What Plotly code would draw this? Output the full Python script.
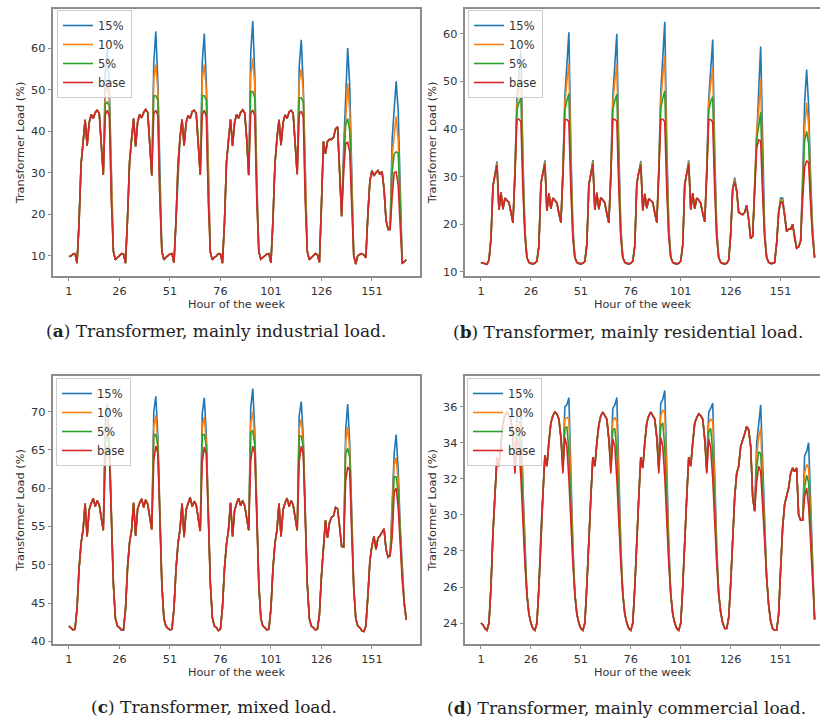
import plotly.graph_objects as go

# ---------------- data ----------------
hours = list(range(1, 169))
x_ticks = [1, 26, 51, 76, 101, 126, 151]
scenarios = ["15%", "10%", "5%", "base"]
colors = {"15%": "#1f77b4", "10%": "#ff7f0e", "5%": "#2ca02c", "base": "#d62728"}

# (a) mainly industrial load - base profile, hours 1..168
ind_base = [
    9.8, 9.9, 10.4, 10.5, 8.2, 18.0, 32.0, 38.5, 42.7, 36.5, 42.0, 44.0, 43.0, 44.5, 45.0, 44.3, 38.0, 29.5, 44.0, 45.0, 43.5, 23.0, 11.0, 9.0,
    9.5, 10.0, 10.5, 10.4, 8.2, 19.0, 32.5, 38.0, 43.0, 36.3, 42.2, 44.0, 43.2, 44.5, 45.2, 44.5, 37.5, 29.3, 44.2, 45.0, 43.8, 23.5, 11.0, 9.0,
    9.6, 10.0, 10.4, 10.5, 8.3, 18.5, 32.0, 38.5, 42.8, 36.5, 42.0, 43.8, 43.0, 44.7, 45.0, 44.3, 38.0, 29.5, 44.0, 45.0, 43.5, 23.0, 10.8, 9.0,
    9.6, 9.9, 10.5, 10.4, 8.2, 18.0, 32.5, 38.0, 42.8, 36.4, 42.1, 44.0, 43.1, 44.5, 45.1, 44.4, 38.2, 29.4, 44.3, 45.1, 43.6, 23.2, 11.0, 9.1,
    9.5, 10.0, 10.4, 10.5, 8.3, 18.5, 32.2, 38.3, 42.7, 36.6, 42.0, 43.9, 43.0, 44.6, 45.0, 44.3, 38.0, 29.6, 44.0, 44.8, 43.4, 23.0, 11.0, 9.0,
    9.5, 10.0, 10.5, 10.2, 8.4, 22.0, 37.5, 34.5, 37.5, 38.0, 38.0, 38.5, 40.5, 41.0, 30.0, 19.5, 30.0, 37.0, 37.3, 35.0, 22.0, 10.0, 8.0, 10.0,
    10.3, 10.5, 10.2, 9.5, 20.0, 28.0, 30.5, 29.2, 30.0, 30.5, 29.5, 30.3, 26.0, 18.5, 16.3, 16.3, 24.0, 30.0, 30.2, 27.0, 17.0, 8.2, 8.5, 9.0,
]
ind_peak_hours = [19, 20, 21, 22, 43, 44, 45, 46, 67, 68, 69, 70, 91, 92, 93, 94, 115, 116, 117, 118,
                  137, 138, 139, 140, 141, 161, 162, 163, 164, 165]
ind_5 = [46.5, 47.0, 46.0, 24.0, 48.5, 48.5, 47.5, 24.5, 48.5, 48.5, 47.5, 24.5, 49.5, 49.5, 48.0, 24.5, 48.0, 48.0, 47.0, 24.5,
         32.0, 41.5, 43.0, 40.0, 24.0, 30.0, 34.5, 35.0, 34.8, 22.0]
ind_10 = [49.0, 51.0, 47.5, 25.5, 52.5, 56.0, 50.0, 26.0, 52.5, 56.0, 50.0, 26.0, 53.5, 57.5, 51.0, 26.5, 52.0, 55.0, 49.5, 26.0,
          34.0, 44.0, 51.5, 45.0, 26.0, 34.0, 39.5, 43.5, 38.0, 23.0]
ind_15 = [54.0, 60.0, 50.0, 27.0, 56.5, 64.0, 52.0, 28.0, 56.5, 63.5, 52.0, 28.0, 59.0, 66.5, 53.5, 28.5, 55.5, 62.0, 51.0, 27.5,
          36.0, 48.0, 60.0, 51.0, 28.0, 38.0, 44.0, 52.0, 45.0, 27.0]

# (b) mainly residential load
res_base = [
    12.0, 11.9, 11.8, 11.6, 12.5, 17.0, 28.0, 30.5, 32.3, 23.0, 26.7, 23.2, 25.5, 25.0, 24.6, 22.5, 20.3, 30.0, 42.0, 42.1, 41.5, 27.0, 17.5, 13.0,
    12.0, 11.8, 11.7, 11.8, 12.3, 15.5, 28.5, 30.8, 32.5, 22.8, 26.5, 23.3, 25.5, 25.0, 24.5, 22.3, 20.4, 30.0, 42.0, 42.0, 41.5, 27.0, 17.0, 13.0,
    12.0, 11.8, 11.7, 11.8, 12.2, 15.8, 28.3, 30.6, 32.6, 23.0, 26.6, 23.2, 25.6, 25.1, 24.5, 22.2, 20.3, 29.8, 42.1, 42.0, 41.6, 27.2, 17.0, 13.0,
    12.0, 11.8, 11.7, 11.8, 12.3, 15.5, 28.6, 30.9, 32.3, 22.9, 26.4, 23.4, 25.4, 25.0, 24.6, 22.4, 20.4, 30.2, 42.0, 42.1, 41.5, 27.0, 17.2, 13.1,
    12.0, 11.8, 11.7, 11.8, 12.3, 15.7, 28.4, 30.7, 32.5, 23.1, 26.5, 23.3, 25.5, 25.1, 24.4, 22.3, 20.5, 30.0, 42.0, 42.0, 41.4, 27.0, 17.0, 13.0,
    12.0, 11.8, 11.7, 11.8, 12.5, 18.0, 27.5, 28.8, 27.0, 22.5, 22.2, 22.0, 22.5, 24.0, 21.0, 17.0, 17.5, 28.0, 36.0, 37.7, 37.5, 26.0, 17.0, 13.0,
    12.0, 11.8, 11.8, 12.0, 16.0, 22.5, 24.5, 24.5, 22.0, 18.5, 19.0, 19.0, 20.0, 17.0, 15.0, 15.3, 16.5, 25.0, 32.0, 33.3, 33.0, 24.0, 17.0, 13.0,
]
res_peak_hours = [9, 18, 19, 20, 21, 22, 23, 33, 42, 43, 44, 45, 46, 47, 57, 66, 67, 68, 69, 70, 71,
                  81, 90, 91, 92, 93, 94, 95, 105, 114, 115, 116, 117, 118, 119,
                  128, 139, 140, 141, 142, 143, 151, 152, 162, 163, 164, 165, 166, 167]
res_5 = [32.6, 30.5, 44.0, 45.5, 46.5, 29.5, 17.8, 32.8, 30.5, 44.0, 46.0, 47.4, 30.0, 17.5,
         32.9, 30.3, 44.1, 46.0, 47.3, 30.2, 17.5, 32.7, 30.7, 44.3, 46.5, 48.0, 30.5, 17.8,
         32.8, 30.5, 43.8, 45.8, 46.8, 29.8, 17.5,
         29.1, 38.0, 40.5, 43.5, 28.5, 17.5, 24.8, 24.8, 27.0, 37.5, 39.5, 37.0, 26.0, 17.8]
res_10 = [32.9, 31.0, 45.0, 48.5, 51.0, 31.5, 18.5, 33.1, 31.0, 45.5, 50.0, 53.7, 33.0, 18.5,
          33.2, 30.8, 45.5, 50.0, 53.5, 33.0, 18.5, 33.0, 31.2, 46.0, 51.0, 55.3, 34.0, 18.8,
          33.1, 31.0, 45.3, 49.5, 52.8, 32.5, 18.4,
          29.4, 39.5, 44.0, 50.5, 31.0, 18.0, 25.1, 25.1, 28.5, 40.0, 45.5, 41.0, 28.0, 18.5]
res_15 = [33.2, 31.5, 46.5, 51.5, 56.5, 34.0, 19.0, 33.4, 31.5, 47.0, 53.5, 60.3, 36.0, 19.5,
          33.5, 31.3, 47.0, 53.5, 60.0, 36.0, 19.5, 33.3, 31.7, 48.0, 55.0, 62.5, 37.0, 19.8,
          33.4, 31.5, 46.5, 52.5, 58.8, 35.0, 19.2,
          29.8, 41.0, 48.0, 57.3, 34.0, 18.5, 25.5, 25.5, 30.0, 45.5, 52.5, 45.0, 30.0, 19.0]

# (c) mixed load
mix_base = [
    42.0, 41.8, 41.5, 41.6, 44.3, 49.5, 52.8, 54.6, 58.0, 53.7, 57.2, 58.0, 58.7, 57.6, 58.4, 57.8, 56.0, 54.5, 63.5, 65.5, 64.5, 57.0, 47.5, 43.0,
    42.0, 41.8, 41.5, 41.5, 44.2, 49.6, 52.9, 54.5, 58.1, 53.8, 57.3, 58.1, 58.6, 57.5, 58.5, 57.9, 56.1, 54.6, 63.6, 65.5, 64.6, 57.0, 47.4, 43.0,
    42.0, 41.7, 41.5, 41.6, 44.3, 49.4, 52.8, 54.7, 58.0, 53.6, 57.2, 58.0, 58.8, 57.6, 58.3, 57.8, 56.0, 54.4, 63.4, 65.4, 64.4, 57.1, 47.6, 43.1,
    42.0, 41.8, 41.4, 41.6, 44.4, 49.5, 52.7, 54.6, 58.1, 53.7, 57.1, 58.0, 58.7, 57.7, 58.4, 57.7, 56.0, 54.5, 63.6, 65.5, 64.5, 57.0, 47.5, 43.0,
    42.0, 41.8, 41.5, 41.6, 44.3, 49.5, 52.8, 54.6, 58.0, 53.7, 57.2, 58.1, 58.7, 57.6, 58.4, 57.8, 55.9, 54.5, 63.5, 65.5, 64.4, 57.0, 47.5, 43.0,
    42.0, 41.8, 41.5, 41.6, 43.5, 48.5, 52.5, 55.8, 53.5, 55.5, 56.2, 56.4, 57.5, 57.3, 55.0, 52.4, 52.3, 61.0, 62.8, 62.3, 54.0, 47.0, 43.0, 42.0,
    41.8, 41.4, 41.3, 42.0, 46.0, 50.5, 52.5, 53.7, 52.0, 53.5, 53.8, 54.3, 54.7, 52.0, 51.0, 51.2, 53.5, 59.5, 60.0, 57.5, 52.0, 48.0, 45.0, 42.8,
]
mix_peak_hours = [19, 20, 21, 22, 43, 44, 45, 46, 67, 68, 69, 70, 91, 92, 93, 94, 115, 116, 117, 118,
                  138, 139, 140, 141, 161, 162, 163, 164, 165, 166]
mix_5 = [66.5, 66.8, 65.3, 57.4, 67.0, 67.0, 65.5, 57.5, 67.0, 67.0, 65.5, 57.5, 67.3, 67.5, 65.7, 57.5, 66.8, 66.8, 65.4, 57.4,
         64.5, 65.2, 64.0, 55.0, 55.0, 61.5, 61.5, 59.5, 53.0, 48.5]
mix_10 = [67.5, 69.0, 65.8, 57.8, 68.0, 69.5, 66.0, 58.0, 68.0, 69.3, 66.0, 58.0, 68.5, 70.0, 66.3, 58.2, 67.8, 69.0, 65.9, 57.9,
          66.0, 68.0, 65.0, 56.0, 56.5, 63.0, 64.0, 61.0, 54.0, 49.0]
mix_15 = [69.0, 71.0, 66.5, 58.3, 70.0, 72.0, 67.0, 58.5, 69.8, 71.8, 67.0, 58.5, 70.5, 73.0, 67.5, 58.8, 69.5, 71.3, 66.8, 58.4,
          67.5, 71.0, 66.0, 57.0, 58.0, 64.5, 67.0, 62.5, 55.0, 49.5]

# (d) mainly commercial load
com_base = [
    24.0, 23.9, 23.7, 23.6, 24.0, 26.0, 29.0, 31.0, 33.2, 32.7, 34.0, 35.1, 35.5, 35.7, 35.5, 35.3, 34.3, 32.3, 34.2, 33.8, 32.0, 29.5, 27.3, 25.6,
    24.5, 24.0, 23.7, 23.6, 24.0, 26.0, 29.1, 31.1, 33.3, 32.7, 34.1, 35.1, 35.5, 35.7, 35.6, 35.3, 34.3, 32.3, 34.3, 33.8, 32.0, 29.5, 27.3, 25.6,
    24.5, 24.0, 23.7, 23.6, 24.0, 26.1, 29.0, 31.0, 33.2, 32.7, 34.0, 35.0, 35.5, 35.7, 35.5, 35.3, 34.2, 32.3, 34.2, 33.8, 32.0, 29.4, 27.3, 25.6,
    24.5, 24.0, 23.7, 23.6, 24.0, 26.0, 29.0, 31.0, 33.2, 32.6, 34.0, 35.1, 35.5, 35.7, 35.5, 35.3, 34.3, 32.3, 34.3, 33.8, 32.1, 29.5, 27.3, 25.6,
    24.5, 24.0, 23.7, 23.6, 24.0, 26.0, 29.0, 31.0, 33.2, 32.7, 34.0, 35.1, 35.4, 35.6, 35.5, 35.3, 34.2, 32.3, 34.2, 33.7, 32.0, 29.5, 27.3, 25.6,
    24.6, 24.0, 23.7, 23.7, 24.3, 26.2, 29.0, 31.0, 32.3, 32.7, 33.8, 34.1, 34.5, 34.9, 34.7, 33.8, 31.0, 30.2, 31.8, 32.7, 32.4, 30.5, 28.3, 26.5,
    25.0, 24.1, 23.7, 23.6, 23.6, 24.5, 27.0, 29.3, 30.6, 31.0, 31.5, 32.3, 32.6, 32.4, 32.6, 30.0, 29.7, 29.7, 31.0, 31.5, 30.5, 28.5, 26.0, 24.2,
]
com_peak_hours = [18, 19, 20, 21, 22, 23, 42, 43, 44, 45, 46, 47, 66, 67, 68, 69, 70, 71,
                  90, 91, 92, 93, 94, 95, 114, 115, 116, 117, 118, 119,
                  139, 140, 141, 142, 143, 163, 164, 165, 166, 167]
com_5 = [32.4, 34.7, 34.6, 33.3, 30.1, 27.6, 32.5, 34.8, 34.9, 33.5, 30.2, 27.6, 32.5, 34.7, 34.8, 33.5, 30.2, 27.6,
         32.5, 34.9, 35.1, 33.7, 30.3, 27.6, 32.4, 34.6, 34.8, 33.4, 30.1, 27.6,
         32.6, 33.5, 33.4, 31.2, 28.7, 31.5, 32.2, 31.8, 29.3, 26.4]
com_10 = [32.6, 35.1, 35.2, 34.8, 30.8, 27.9, 32.7, 35.3, 35.4, 35.3, 31.0, 28.0, 32.7, 35.2, 35.4, 35.2, 31.0, 28.0,
          32.7, 35.5, 35.8, 35.7, 31.2, 28.0, 32.6, 35.1, 35.3, 35.2, 30.9, 27.9,
          33.3, 34.3, 34.8, 32.0, 29.2, 32.3, 32.8, 32.6, 30.0, 26.8]
com_15 = [32.8, 35.6, 35.7, 35.8, 31.6, 28.3, 33.0, 36.0, 36.1, 36.5, 32.0, 28.4, 33.0, 35.9, 36.1, 36.5, 32.0, 28.4,
          33.0, 36.2, 36.4, 36.9, 32.2, 28.5, 32.9, 35.7, 35.9, 36.2, 31.8, 28.3,
          34.0, 35.0, 36.1, 33.0, 29.8, 33.3, 33.5, 34.0, 30.8, 27.3]

captions = [
    "(<b>a</b>) Transformer, mainly industrial load.",
    "(<b>b</b>) Transformer, mainly residential load.",
    "(<b>c</b>) Transformer, mixed load.",
    "(<b>d</b>) Transformer, mainly commercial load.",
]
y_ticks = [[10, 20, 30, 40, 50, 60], [10, 20, 30, 40, 50, 60],
           [40, 45, 50, 55, 60, 65, 70], [24, 26, 28, 30, 32, 34, 36]]


def with_peaks(base, peak_hours, peak_vals):
    s = list(base)
    for h, v in zip(peak_hours, peak_vals):
        s[h - 1] = v
    return s


panels = [
    (ind_base, ind_peak_hours, ind_5, ind_10, ind_15),
    (res_base, res_peak_hours, res_5, res_10, res_15),
    (mix_base, mix_peak_hours, mix_5, mix_10, mix_15),
    (com_base, com_peak_hours, com_5, com_10, com_15),
]

# ---------------- layout geometry (pixels) ----------------
W, H = 820, 724
px_x = lambda p: p / W
px_y = lambda p: 1 - p / H

x_dom = [[53, 420], [465, 820], [53, 420], [465, 820]]
y_dom = [[9, 276], [9, 276], [376, 644], [376, 644]]
x_rng = [[-6.9, 174.8], [-7.0, 170.7], [-6.9, 174.8], [-7.0, 170.7]]
y_rng = [[5.1, 69.4], [9.15, 65.2], [39.66, 74.65], [22.84, 37.7]]
legend_pos = [(57, 10), (468, 10), (56, 378), (467, 378)]
caption_pos = [(216, 331), (628, 332), (214, 707), (626, 708)]

fig = go.Figure()
for i, (base, ph, v5, v10, v15) in enumerate(panels):
    series = {
        "15%": with_peaks(base, ph, v15),
        "10%": with_peaks(base, ph, v10),
        "5%": with_peaks(base, ph, v5),
        "base": list(base),
    }
    sfx = "" if i == 0 else str(i + 1)
    for name in scenarios:
        fig.add_trace(go.Scatter(
            x=hours, y=series[name], mode="lines", name=name,
            line=dict(color=colors[name], width=1.6),
            xaxis="x" + sfx, yaxis="y" + sfx, legend="legend" + sfx,
        ))

axis_font = dict(family="DejaVu Sans", size=11.3, color="#333")
layout = dict(
    width=W, height=H, autosize=False,
    margin=dict(l=0, r=0, t=0, b=0),
    paper_bgcolor="white", plot_bgcolor="white",
    template="none",
    font=dict(family="DejaVu Sans", color="#333"),
    annotations=[],
)
for i in range(4):
    sfx = "" if i == 0 else str(i + 1)
    right_edge_cut = (i % 2 == 1)
    layout["xaxis" + sfx] = dict(
        domain=[px_x(x_dom[i][0]), px_x(x_dom[i][1])],
        range=x_rng[i], tickvals=x_ticks, ticks="outside", ticklen=3.5, tickwidth=1,
        tickcolor="#888", showline=True, linecolor="#8c8c8c", linewidth=1.7, mirror=True,
        showgrid=False, zeroline=False, tickfont=axis_font,
        anchor="y" + sfx,
        title=dict(text="Hour of the week", font=axis_font, standoff=3),
    )
    layout["yaxis" + sfx] = dict(
        domain=[px_y(y_dom[i][1]), px_y(y_dom[i][0])],
        range=y_rng[i], tickvals=y_ticks[i], ticks="outside", ticklen=3.5, tickwidth=1,
        tickcolor="#888", showline=True, linecolor="#8c8c8c", linewidth=1.7,
        mirror=(not right_edge_cut),
        showgrid=False, zeroline=False, tickfont=axis_font,
        anchor="x" + sfx,
        title=dict(text="Transformer Load (%)", font=axis_font, standoff=4),
    )
    lx, ly = legend_pos[i]
    layout["legend" + sfx] = dict(
        x=px_x(lx), y=px_y(ly), xanchor="left", yanchor="top",
        bgcolor="rgba(255,255,255,0.8)", bordercolor="#cccccc", borderwidth=1,
        font=dict(family="DejaVu Sans", size=11.5, color="#333"),
        tracegroupgap=0,
    )
    cx, cy = caption_pos[i]
    layout["annotations"].append(dict(
        text=captions[i], x=px_x(cx), y=px_y(cy), xref="paper", yref="paper",
        xanchor="center", yanchor="middle", showarrow=False,
        font=dict(family="DejaVu Serif", size=17, color="#222"),
    ))

fig.update_layout(**layout)
fig.write_html(
    "out.html",
    config={"displayModeBar": False},
    post_script="document.body.style.margin='0';document.body.style.overflow='hidden';",
)
